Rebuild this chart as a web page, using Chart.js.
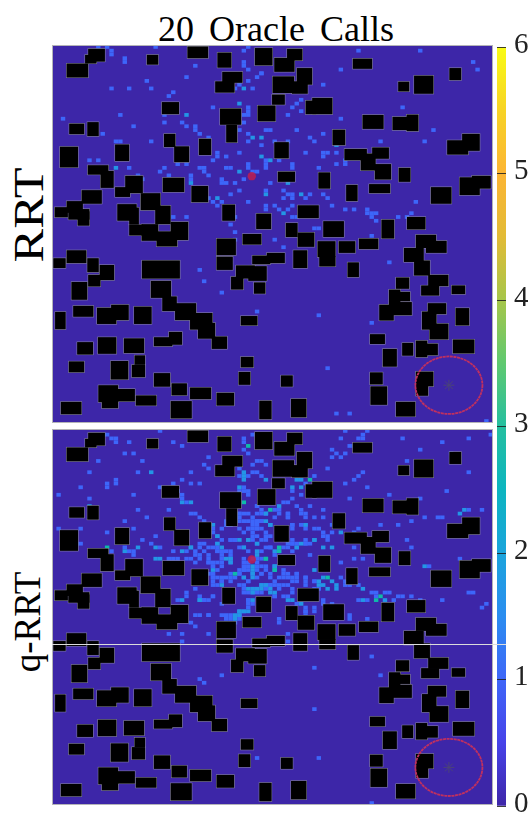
<!DOCTYPE html>
<html>
<head>
<meta charset="utf-8">
<script src="https://cdn.jsdelivr.net/npm/chart.js@4"></script>
<style>
  html, body { margin: 0; background: #fff; }
  body { width: 528px; height: 815px; position: relative; overflow: hidden; }
  canvas { position: absolute; }
  .txt { position: absolute; font-family: "Liberation Serif", serif; color: #000; white-space: nowrap; line-height: 1; }
  #title { left: 158px; top: 11px; font-size: 36px; word-spacing: 6px; }
  .side { transform: translate(-50%, -50%) rotate(-90deg); }
  #seam { position: absolute; left: 52px; top: 644px; width: 454px; height: 1px; background: #dcdcdc; }
</style>
</head>
<body>
<div class="txt" id="title">20 Oracle Calls</div>
<div class="txt side" style="left:27.5px;top:215px;font-size:43px;transform:translate(-50%,-50%) rotate(-90deg) scaleX(1.17)">RRT</div>
<div class="txt side" style="left:27px;top:622px;font-size:37px">q-RRT</div>
<canvas id="chartRrt" width="441" height="378" style="left:52px;top:45px"></canvas>
<canvas id="chartQrrt" width="441" height="376" style="left:52px;top:429px"></canvas>
<canvas id="chartBar" width="31" height="788" style="left:497px;top:27px"></canvas>
<div id="seam"></div>
<script>
// obstacles: [col0, row0, col1, row1] on the 100x100 grid
const obstacles = [
  [8.2,1,12,4.4],[7.5,2.6,10.1,4.9],[3.3,4.9,8.2,8.6],[21.5,2.6,24.1,5.2],[30.7,.4,35.4,3.5],[37.5,2,40.7,6],
  [38.6,7.1,43.2,10],[37,9.6,41.4,12.6],[46,.8,50,5.4],[53.3,1,56.8,4.1],[50.4,3.4,55,7.1],[55.5,6.1,59,10.5],
  [50,8.3,54.9,12.7],[54.4,9.6,58,12.9],[49.9,13.1,52.8,15.8],[46.6,16,50.7,20.2],[57.5,14.7,60,18.3],[59,14,63.6,18.3],
  [68.2,3.6,72.6,6.3],[78.5,9.7,81,12.3],[82.1,8.1,86.5,12.9],[90.1,6.1,92.8,9.3],[70.4,18.5,75.2,22.2],[77.2,19,80.8,22.5],
  [80.4,18.4,83.1,22.8],[93,23.5,97,28],[89.6,25.2,94.4,29],[63.6,22.4,66.5,26.5],[66.3,27.5,71.4,30.5],[72.6,27.1,76.4,30.1],
  [70,28.7,73.4,33.2],[73.2,31.5,76.9,35.6],[78.6,32.5,81.3,36.2],[50.4,25.7,53.7,30],[51.2,33.5,55.1,36.2],[60.4,33.7,63.1,38],
  [66.7,37,69.3,41.3],[71.9,36.8,76.7,39.2],[85.9,37.6,90.6,42],[92.4,35,97,39.7],[95.2,34.6,99.5,38],[55.7,42.4,60.5,45.8],
  [24.9,15.1,28.8,18.3],[38.1,16.8,42.9,21.1],[39.5,21.1,42,25.8],[3.9,20.8,7.3,23.6],[8,20.4,10.6,24.1],[1.8,26.9,5.9,32.4],
  [14.3,26.3,17.5,30.7],[25.4,23.5,28,27],[27.7,26.8,31.1,31],[33.3,24.8,36.1,29.1],[8.1,31.8,12.8,34.3],[11,33.3,14,37.8],
  [16.6,34.6,20.6,39.2],[14.3,37.6,17.7,40.2],[25.1,35.1,30,38.9],[31.6,37.3,35.4,41.6],[6.7,38.4,11.3,42],[3.3,41.3,7,44.4],
  [.6,42.9,3.6,45.6],[3.7,43.4,8.5,46.2],[5.8,44,8.5,47.8],[14.8,42.1,19.2,46.5],[17.5,43,19.7,47.5],[20.1,39.2,24.6,43.7],
  [23.4,42.5,26.9,47.4],[17.5,47.5,20.7,50.4],[20.3,47.4,24.1,51.8],[23.7,49.3,28.4,53.3],[26.9,46.8,30.9,51.6],[38.6,42.2,41.5,46.5],
  [37.3,51.2,41.7,55.6],[37.3,56,41,59.5],[43.2,50,47.5,52.8],[46.3,44.6,49.7,48.7],[53,47.1,55.7,50.8],[55.7,49.6,59.5,53.4],
  [61.5,46.6,66.2,50.8],[65,51.9,68.8,55],[69.6,51.2,74,54],[74.7,46.2,77.6,51.2],[80.5,45.5,84.7,48.8],[82.5,50.2,87.1,53.7],
  [84.8,51.8,89.5,55],[79.8,53.7,84.3,57.4],[82.1,57,85.7,61],[85.3,60.8,89.9,63.8],[83.7,63.6,87.8,66.3],[90.6,63.6,93.7,65.9],
  [78,61.5,81,64.5],[76.4,64.7,79,70],[78.5,65.3,81.2,67.8],[77.2,68,81.6,71.5],[74.2,68.7,77.5,72.9],[85.2,68.3,89.4,71.2],
  [83.9,70.5,87.2,75.3],[85.6,73.7,89.9,77.9],[91.5,69.6,94.6,74.2],[72.1,76.5,75.5,79.1],[79.4,78.8,81.9,82.2],[75,80.4,78.2,85.1],
  [82.5,78.2,85.1,82.6],[85,79,87.5,82.1],[90.9,77.9,95.8,81.6],[72.1,86.6,75,89.8],[72.2,90.3,76,95.2],[82.5,86.4,86.5,90.3],
  [82.5,89.9,85.3,92.8],[78,94.4,82.4,98.3],[54.2,93.6,57.7,98.5],[51.9,87.4,54.6,90.4],[47,94.1,49.8,99],[54.7,54.3,57.9,59],
  [60.2,51.9,64.3,56.1],[60.6,55.9,64.3,58.6],[67,57.5,69.6,61.4],[48.7,55,52.8,57.7],[45.4,55.7,49.5,58],[41.7,58.3,46,61.8],
  [44.5,58.5,48.7,62.4],[40.6,61.3,43.4,64.7],[45.8,62.8,48.4,65.8],[42.8,71.7,46.6,74.2],[42.8,82.5,45.7,85.3],[42.3,86.5,45,89.9],
  [37.3,92,41.3,95.4],[31.3,90.6,36.1,93.7],[27.1,89.5,30.6,92.7],[23.1,86.8,26.8,90.4],[26.9,94.2,31.7,98.8],[19,92.7,23.7,95.4],
  [14.7,91,18.8,94.3],[10.5,90,15,94.5],[11.3,93.8,15,96.1],[2,94.4,6.7,97.7],[3.8,83.7,7.3,86.6],[13.3,83.6,17.3,88.5],
  [18.7,82.1,21.1,84.6],[18.1,84.6,21.1,87.9],[5.7,78.6,9.3,81.9],[10.4,77.3,14.6,81.7],[16.3,77.6,20.9,81.5],[23.1,77.3,27.3,79.7],
  [26.5,75.9,29.5,79.3],[36.2,77.1,39.7,80.4],[33.1,73.5,37,77.7],[31.3,70.9,36.4,75.3],[27.9,68.3,32.7,72.8],[25,66.5,28.3,70.4],
  [22.4,62.4,27,66.9],[20.4,57,29,61.8],[3.3,54.3,7.8,57.7],[.3,56.4,3.1,59],[8,56.4,10.6,60.1],[10.8,58.2,14.1,62.2],
  [8.2,60.8,11,63.9],[4.4,62.7,8,67.4],[4.8,69,9.4,71.9],[.7,70.6,3.1,75.2],[10.2,69.5,14.6,73.8],[13.4,68.7,17.4,72.8],[18.6,69.2,22.6,73.8]
];

// visited cells [col, row], by how many samples fell in them
const rrtOnce = [
  [10,0],[12,0],[13,1],[13,2],[16,3],[16,4],[23,0],[32,5],[30,8],[21,9],[13,11],[17,11],[22,11],[27,12],[26,13],[43,1],[44,0],[43,4],[43,5],[44,6],
  [46,8],[47,7],[44,9],[45,11],[41,11],[42,10],[44,16],[44,17],[43,18],[44,18],[36,16],[25,18],[25,20],[29,20],[30,21],[32,21],[32,22],[33,23],[35,24],
  [15,18],[2,19],[18,21],[11,23],[14,25],[15,25],[22,25],[43,20],[42,22],[44,23],[44,25],[42,28],[37,28],[37,29],[39,29],[36,30],[8,30],[10,30],
  [17,32],[25,32],[24,33],[19,34],[20,35],[26,34],[28,31],[30,31],[33,32],[34,32],[34,33],[35,34],[31,34],[31,35],[39,32],[40,32],[44,31],[44,32],
  [46,33],[45,33],[38,35],[38,36],[39,36],[41,36],[43,35],[42,38],[40,39],[35,40],[36,41],[37,42],[38,41],[44,41],[48,30],[48,31],[48,32],[48,22],
  [48,38],[48,42],[69,1],[83,1],[65,6],[61,10],[95,4],[96,6],[79,16],[65,19],[56,14],[55,15],[54,16],[56,17],[53,18],[47,7],[49,22],[55,22],[58,24],
  [59,25],[61,23],[50,25],[53,25],[57,28],[61,28],[61,29],[62,28],[64,28],[64,31],[66,30],[66,31],[60,32],[54,31],[54,32],[51,30],[47,26],[86,22],
  [84,25],[74,25],[49,36],[52,38],[53,39],[54,39],[54,40],[52,40],[58,39],[57,40],[61,39],[62,40],[63,42],[66,43],[68,43],[48,43],[50,42],[51,43],
  [53,43],[54,42],[71,43],[71,44],[72,44],[73,44],[72,45],[82,41],[78,45],[81,44],[80,45],[54,45],[55,45],[73,46],[59,48],[60,48],[50,51],[52,53],
  [72,50],[76,57],[60,71],[72,73],[62,85],[64,97],[67,97],[98,99],[27,45],[30,45],[29,47],[40,47],[41,45],[41,49],[41,51],[40,57],[33,59],[34,62],[38,65],[46,70]
];
const rrtTwice = [
  [43,11],[42,15],[30,18],[45,24],[14,32],[31,36],[42,33],[37,40],[47,29],[49,30],[47,24],[48,39],[53,36],[56,39],[64,26],[52,44]
];
const qrrtOnce = [
  [24,0],[12,1],[13,2],[14,2],[14,3],[17,3],[27,3],[29,4],[16,6],[18,6],[20,8],[10,8],[8,11],[19,11],[31,11],[35,7],[34,9],[35,10],[29,13],[31,14],[33,14],
  [27,14],[14,13],[14,14],[12,14],[12,15],[6,15],[24,15],[1,17],[18,17],[8,18],[28,16],[29,17],[29,18],[30,19],[19,21],[21,23],[26,21],[31,22],[32,22],
  [33,23],[34,24],[16,24],[6,26],[1,26],[12,27],[18,26],[20,29],[23,28],[22,30],[6,30],[13,32],[16,31],[17,32],[18,32],[18,33],[24,31],[27,32],[30,32],
  [33,30],[34,30],[33,31],[34,32],[33,33],[26,34],[27,34],[28,34],[30,34],[31,34],[32,35],[33,34],[35,35],[35,34],[36,27],[37,28],[38,26],[39,25],[38,29],
  [40,29],[41,29],[42,26],[43,27],[44,26],[45,27],[46,26],[47,26],[48,27],[44,24],[43,24],[45,24],[46,24],[47,24],[42,22],[43,22],[44,22],[45,23],[46,22],
  [47,21],[48,22],[46,20],[44,17],[42,16],[43,16],[44,16],[43,15],[42,12],[44,12],[45,11],[46,11],[47,12],[46,8],[47,8],[42,10],[43,3],[43,2],[45,1],[43,5],
  [44,6],[45,9],[48,9],[36,31],[37,32],[39,32],[40,32],[42,31],[43,31],[44,29],[45,29],[47,29],[48,31],[47,32],[44,32],[38,34],[37,35],[36,35],[36,36],[38,36],
  [40,35],[43,35],[44,35],[45,34],[46,35],[47,34],[43,37],[44,37],[46,37],[47,38],[48,37],[42,38],[44,40],[45,38],[46,39],[37,37],[36,38],[35,38],[36,39],[37,39],
  [38,40],[36,41],[37,41],[39,39],[40,38],[41,39],[43,41],[48,42],[46,43],[44,43],[43,43],[45,43],[47,43],[30,43],[28,45],[30,44],[34,45],[36,44],[35,45],[44,45],
  [43,48],[42,49],[39,50],[39,49],[38,51],[33,49],[35,49],[32,52],[26,54],[29,54],[29,56],[35,54],[31,51],[41,51],[33,66],[34,67],[38,65],[46,87],
  [66,0],[71,0],[70,1],[70,2],[69,2],[65,2],[79,2],[88,3],[94,2],[99,1],[63,5],[63,7],[65,7],[66,6],[64,6],[67,4],[68,4],[83,5],[80,8],[90,6],[62,10],[94,11],
  [70,11],[69,12],[68,13],[66,14],[71,15],[76,17],[89,16],[83,18],[67,18],[57,14],[59,12],[54,16],[56,17],[54,18],[53,19],[52,19],[50,21],[55,20],[56,21],[58,20],
  [61,21],[61,23],[56,22],[53,22],[53,23],[54,25],[50,23],[47,24],[56,25],[57,26],[63,25],[59,26],[60,26],[61,27],[63,27],[68,27],[69,26],[62,28],[62,29],[61,28],
  [58,30],[57,30],[54,30],[53,30],[53,31],[52,31],[49,31],[50,33],[58,33],[68,31],[80,29],[81,31],[74,25],[78,25],[81,24],[84,23],[87,23],[88,23],[94,21],[97,21],
  [68,34],[70,34],[65,35],[92,34],[85,36],[48,36],[52,38],[53,39],[55,38],[51,39],[49,38],[49,39],[54,40],[57,39],[59,40],[65,39],[66,40],[66,41],[67,41],[69,41],
  [59,42],[60,42],[49,41],[50,41],[50,44],[51,42],[52,41],[53,41],[54,42],[53,44],[57,47],[59,47],[57,48],[59,48],[61,45],[61,46],[63,46],[71,50],[67,49],[67,50],
  [51,51],[53,54],[69,45],[71,45],[72,43],[73,43],[73,44],[75,43],[76,43],[78,44],[79,44],[81,44],[83,45],[77,45],[88,45],[94,43],[95,43],[97,47],[98,46],
  [53,56],[72,60],[59,63],[74,65],[59,74],[60,87],[72,99],
  [46,20],[51,21],[42,22],[47,22],[48,22],[51,22],[53,22],[57,22],[42,23],[53,23],[57,23],[59,23],[39,24],[46,24],[47,24],[42,24],[39,25],[40,25],[45,25],[46,25],
  [54,25],[57,25],[36,26],[44,26],[45,26],[46,26],[54,26],[45,28],[46,28],[48,28],[49,28],[40,29],[41,29],[48,29],[54,29],[57,29],[37,30],[46,30],[54,30],[55,30],
  [57,30],[35,31],[37,31],[49,31],[55,31],[32,32],[37,32],[38,32],[51,32],[54,32],[32,33],[35,33],[38,33],[40,33],[43,34],[46,34],[35,35],[38,35],[36,36],[43,36],
  [44,36],[46,36],[47,36],[42,37],[43,37],[52,37],[36,38],[42,38],[47,38],[53,38],[55,38],[36,39],[38,39],[40,39],[43,39],[52,39],[54,39],[55,39],[57,39],[36,40],
  [38,40],[40,40],[44,40],[50,40],[55,40],[57,40],[59,40],[42,41],[47,41],[48,41],[49,41],[51,41],[57,41],[32,42],[43,42],[45,42],[46,42],[54,43],[33,44],[36,44],
  [50,44],[52,44],[34,45],[44,45],[38,46],[44,46],[45,46],[55,46],[44,47],[57,48],[32,49],[35,49],[38,49],[40,49],[57,49],[40,50],[42,50],[51,50]
];
const qrrtTwice = [
  [22,11],[29,19],[31,19],[8,20],[16,32],[19,31],[23,31],[29,32],[31,31],[23,34],[24,34],[37,30],[43,13],[42,15],[43,11],[43,12],[48,13],[38,31],[46,30],[42,29],
  [40,34],[39,34],[45,36],[43,39],[44,42],[45,42],[46,42],[47,42],[29,45],[33,45],[44,48],[42,48],[41,49],[41,50],[56,13],[55,13],[54,15],[56,15],[51,20],[48,22],
  [48,24],[49,25],[57,25],[65,27],[59,29],[56,30],[55,31],[50,32],[61,31],[63,31],[92,22],[93,21],[84,36],[59,37],[50,36],[60,40],[61,39],[60,41],[61,41],[62,42],
  [63,40],[64,42],[64,41],[70,42],[47,41],[48,41],[49,43],[53,45],[56,46],[70,45],[75,45],
  [36,25],[49,25],[37,28],[44,29],[59,29],[31,31],[43,31],[46,32],[46,33],[40,34],[40,35],[50,36],[36,37],[45,37],[50,37],[45,38],[45,39],[38,41],[49,42],[45,43],
  [50,43],[33,45],[45,45],[54,45],[42,48],[43,48],[42,49]
];
const qrrtThrice = [
  [12,31],[43,19],[44,4],[48,34],[58,13],[49,21],[51,32],[48,34],[62,39],[74,44],[73,45],[50,37],[51,31],[41,38]
];
const startCell = { x: 45.3, y: 34.7 };
const goalCell = { x: 90, y: 90 };
const goalRadius = [7.6];

const barTicks = [0, 1, 2, 3, 4, 5, 6];
const parulaStops = ["#3e26a8", "#4743e9", "#3f66f8", "#2b8df0", "#1ba4dc", "#0cb5c0", "#25bfa0", "#5fc970", "#a6c64a", "#e2bb36", "#fcb534", "#f7d325", "#f9fb15"];
const countColors = { 1: "#3d66fa", 2: "#2396e6", 3: "#0ebbaa" };

const toPoints = cells => cells.map(c => ({ x: c[0], y: c[1] }));

// draws background, obstacles and heat cells through the chart's scales
const gridPlugin = {
  id: "gridCells",
  beforeDatasetsDraw(chart) {
    const { ctx, chartArea: a, scales: { x, y } } = chart;
    ctx.save();
    ctx.fillStyle = "#3d26a8";
    ctx.fillRect(a.left, a.top, a.width, a.height);
    chart.data.datasets.forEach(ds => {
      if (!ds.cellColor) return;
      ctx.fillStyle = ds.cellColor;
      ds.data.forEach(p => {
        const x0 = x.getPixelForValue(p.x), y0 = y.getPixelForValue(p.y);
        ctx.fillRect(x0, y0, x.getPixelForValue(p.x + 1) - x0, y.getPixelForValue(p.y + 1) - y0);
      });
    });
    const boxes = obstacles.map(o => [x.getPixelForValue(o[0]), y.getPixelForValue(o[1]), x.getPixelForValue(o[2]), y.getPixelForValue(o[3])]);
    ctx.strokeStyle = "#8f8fa0";
    ctx.lineWidth = 1;
    boxes.forEach(b => ctx.strokeRect(b[0], b[1], b[2] - b[0], b[3] - b[1]));
    ctx.fillStyle = "#000";
    boxes.forEach(b => ctx.fillRect(b[0], b[1], b[2] - b[0], b[3] - b[1]));
    // goal region
    ctx.strokeStyle = "#c0305f";
    ctx.lineWidth = 1.8;
    ctx.setLineDash([3, 0.6]);
    ctx.beginPath();
    ctx.ellipse(x.getPixelForValue(goalCell.x), y.getPixelForValue(goalCell.y),
      x.getPixelForValue(goalRadius[0]) - x.getPixelForValue(0), y.getPixelForValue(goalRadius[0]) - y.getPixelForValue(0), 0, 0, Math.PI * 2);
    ctx.stroke();
    ctx.setLineDash([]);
    // panel edge
    ctx.strokeStyle = "#b4b4b8";
    ctx.lineWidth = 1;
    ctx.strokeRect(a.left + 0.5, a.top + 0.5, a.width - 1, a.height - 1);
    ctx.restore();
  }
};

function makePanel(id, layers) {
  const cellSets = layers.map((cells, i) => ({
    label: "count " + (i + 1),
    data: toPoints(cells),
    cellColor: countColors[i + 1],
    pointRadius: 0
  }));
  new Chart(document.getElementById(id), {
    type: "scatter",
    data: {
      datasets: cellSets.concat([
        { label: "start", data: [startCell], pointRadius: 4.2, backgroundColor: "rgba(190,30,80,0.85)", borderWidth: 0 },
        { label: "goal", data: [goalCell], pointStyle: "star", pointRadius: 5.5, borderColor: "#4b4478", borderWidth: 1, backgroundColor: "transparent" }
      ])
    },
    options: {
      responsive: false,
      animation: false,
      layout: { padding: 0, autoPadding: false },
      plugins: { legend: { display: false }, tooltip: { enabled: false } },
      scales: {
        x: { type: "linear", min: 0, max: 100, display: false },
        y: { type: "linear", min: 0, max: 100, reverse: true, display: false }
      }
    },
    plugins: [gridPlugin]
  });
}

makePanel("chartRrt", [rrtOnce, rrtTwice]);
makePanel("chartQrrt", [qrrtOnce, qrrtTwice, qrrtThrice]);

// colour bar
new Chart(document.getElementById("chartBar"), {
  type: "bar",
  data: {
    labels: ["count"],
    datasets: [{
      data: [[barTicks[0], barTicks[barTicks.length - 1]]],
      barPercentage: 1,
      categoryPercentage: 1,
      backgroundColor(c) {
        const a = c.chart.chartArea;
        if (!a) return parulaStops[0];
        const g = c.chart.ctx.createLinearGradient(0, a.bottom, 0, a.top);
        parulaStops.forEach((s, i) => g.addColorStop(i / (parulaStops.length - 1), s));
        return g;
      }
    }]
  },
  options: {
    responsive: false,
    animation: false,
    layout: { padding: { top: 20, bottom: 9 }, autoPadding: false },
    plugins: { legend: { display: false }, tooltip: { enabled: false } },
    scales: {
      x: { display: false },
      y: {
        position: "right",
        min: 0,
        max: 6,
        afterFit(s) { s.width = 22; s.paddingTop = 0; s.paddingBottom = 0; },
        border: { display: false },
        grid: { color: "rgba(30,30,30,0.85)", z: 1, drawTicks: false },
        ticks: {
          stepSize: 1,
          padding: 8,
          labelOffset: -2,
          color: "#222",
          font: { family: "Liberation Serif", size: 29 },
          callback: v => barTicks.includes(v) ? String(v) : ""
        }
      }
    }
  }
});
</script>
</body>
</html>
